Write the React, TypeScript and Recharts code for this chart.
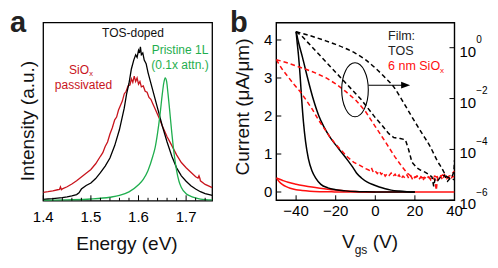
import React from 'react';
import { LineChart, Line, XAxis, YAxis, ReferenceArea, ReferenceDot, ReferenceLine, Customized } from 'recharts';

const FONT = '"Liberation Sans", Arial, Helvetica, sans-serif';
const DARK_RED = '#c8141c';
const GREEN = '#1fae4e';
const RED = '#ff1010';

// ---- panel a: PL spectra (energy eV, normalised intensity) ----
const energyTicks = [1.4, 1.5, 1.6, 1.7];
const energyMinorTicks = [1.42, 1.44, 1.46, 1.48, 1.52, 1.54, 1.56, 1.58, 1.62, 1.64, 1.66, 1.68, 1.72, 1.74];

const tosDoped = [
    [1.4, 0.008], [1.41, 0.01], [1.42, 0.012], [1.43, 0.015], [1.44, 0.018], [1.45, 0.022], [1.46, 0.027],
    [1.47, 0.035], [1.475, 0.045], [1.48, 0.066], [1.49, 0.086], [1.5, 0.1], [1.51, 0.125], [1.52, 0.158],
    [1.53, 0.195], [1.54, 0.24], [1.55, 0.31], [1.56, 0.4], [1.57, 0.52], [1.575, 0.6], [1.58, 0.66],
    [1.585, 0.74], [1.59, 0.79], [1.594, 0.82], [1.597, 0.805], [1.6, 0.845], [1.602, 0.83], [1.604, 0.865],
    [1.606, 0.82], [1.609, 0.83], [1.612, 0.79], [1.616, 0.77], [1.62, 0.72], [1.63, 0.62], [1.64, 0.52],
    [1.65, 0.42], [1.66, 0.33], [1.67, 0.25], [1.68, 0.185], [1.69, 0.14], [1.7, 0.11], [1.71, 0.085],
    [1.72, 0.066], [1.73, 0.051], [1.74, 0.04], [1.755, 0.03],
];

const sioPassivated = [
    [1.4, 0.047], [1.41, 0.051], [1.42, 0.056], [1.43, 0.062], [1.434, 0.064], [1.436, 0.078], [1.438, 0.063],
    [1.44, 0.067], [1.45, 0.079], [1.46, 0.094], [1.47, 0.112], [1.48, 0.134], [1.49, 0.155], [1.5, 0.176],
    [1.51, 0.208], [1.52, 0.25], [1.525, 0.27], [1.53, 0.305], [1.535, 0.33], [1.54, 0.375], [1.545, 0.41],
    [1.55, 0.455], [1.554, 0.47], [1.558, 0.51], [1.562, 0.535], [1.566, 0.56], [1.57, 0.6], [1.574, 0.615],
    [1.578, 0.645], [1.582, 0.65], [1.585, 0.685], [1.588, 0.665], [1.591, 0.7], [1.594, 0.67], [1.597, 0.69],
    [1.6, 0.655], [1.603, 0.67], [1.606, 0.64], [1.61, 0.645], [1.614, 0.615], [1.618, 0.61], [1.622, 0.58],
    [1.626, 0.57], [1.63, 0.545], [1.635, 0.515], [1.64, 0.485], [1.645, 0.455], [1.65, 0.42], [1.655, 0.39],
    [1.66, 0.36], [1.665, 0.335], [1.67, 0.31], [1.68, 0.258], [1.69, 0.215], [1.7, 0.186], [1.71, 0.16],
    [1.72, 0.135], [1.725, 0.128], [1.727, 0.14], [1.729, 0.125], [1.73, 0.112], [1.74, 0.092], [1.755, 0.074],
];

const pristine = [
    [1.4, 0.002], [1.45, 0.005], [1.5, 0.01], [1.54, 0.02], [1.56, 0.03], [1.58, 0.05], [1.6, 0.09],
    [1.61, 0.12], [1.62, 0.17], [1.63, 0.25], [1.635, 0.3], [1.64, 0.38], [1.645, 0.48], [1.65, 0.6],
    [1.653, 0.66], [1.656, 0.69], [1.659, 0.67], [1.662, 0.6], [1.665, 0.52], [1.67, 0.38], [1.675, 0.26],
    [1.68, 0.17], [1.685, 0.11], [1.69, 0.075], [1.7, 0.04], [1.71, 0.025], [1.72, 0.016], [1.73, 0.01],
    [1.755, 0.005],
];

// ---- panel b: transfer curves (Vgs V, current uA/um linear; log10 current on right) ----
const vgsTicks = [-40, -20, 0, 20, 40];
const currentTicks = [0, 1, 2, 3, 4];
const logTicks = [1, 1e-2, 1e-4, 1e-6];

const tosLinSteep = [
    [-40, 4.22], [-39.5, 3.95], [-38.8, 3.6], [-38, 3.08], [-37.2, 2.45], [-36.3, 1.85], [-35.2, 1.32],
    [-33.8, 0.88], [-32, 0.56], [-30, 0.36], [-27.5, 0.2], [-24, 0.11], [-20, 0.06], [-15, 0.03],
    [-10, 0.012], [-5, 0.004], [0, 0], [20, 0],
];
const tosLinSlow = [
    [-40, 4.22], [-38.6, 3.9], [-36.8, 3.55], [-34.3, 3.02], [-31.2, 2.42], [-28.5, 2.0], [-26, 1.72],
    [-23, 1.45], [-20, 1.24], [-17, 1.04], [-14, 0.84], [-11.5, 0.66], [-9.5, 0.5], [-7, 0.37], [-4, 0.26],
    [-1, 0.19], [2, 0.13], [5, 0.085], [8, 0.05], [12, 0.025], [16, 0.01], [20, 0],
];
const sioLinUpper = [
    [-50, 0.37], [-47, 0.31], [-44, 0.255], [-40, 0.205], [-36, 0.165], [-32, 0.13], [-28, 0.1], [-24, 0.073],
    [-20, 0.05], [-16, 0.032], [-12, 0.018], [-8, 0.008], [-4, 0.003], [0, 0],
];
const sioLinLower = [
    [-50, 0.37], [-48.5, 0.27], [-47, 0.2], [-45, 0.14], [-43, 0.1], [-40, 0.06], [-37, 0.04], [-33, 0.022],
    [-28, 0.01], [-22, 0.004], [-16, 0], [40, 0],
];

// exponents (log10 of current)
const tosLogUpper = [
    [-40, 0.63], [-35, 0.52], [-30, 0.4], [-25, 0.27], [-20, 0.13], [-15, -0.03], [-10, -0.22], [-5, -0.47],
    [0, -0.8], [5, -1.18], [9.3, -1.54], [13.5, -2.06], [18.5, -2.72], [23.6, -3.37], [27.8, -3.9],
    [31.2, -4.43], [33.7, -4.75], [36.2, -5.08], [37.9, -5.12], [39.6, -4.89], [40, -4.43],
];
const tosLogLower = [
    [-40, 0.63], [-37, 0.45], [-34, 0.2], [-31, -0.05], [-28, -0.3], [-25, -0.55], [-22, -0.8], [-19, -1.05],
    [-16, -1.3], [-13, -1.55], [-10, -1.8], [-7, -2.05], [-4, -2.35], [-1, -2.65], [0, -2.75], [3.4, -3.05],
    [6.7, -3.37], [9.3, -3.53], [12.6, -3.57], [15.2, -3.62], [16.8, -4.0], [18.5, -4.5], [21, -4.72],
    [23, -4.82], [25.3, -4.9], [27, -4.98], [28.6, -5.08], [29.5, -5.45], [30.2, -5.15], [31.6, -5.22],
    [33, -5.08], [35, -5.02], [36.5, -5.25], [38, -5.12], [40, -5.2],
];
const sioLogUpper = [
    [-50, -0.47], [-45, -0.58], [-40, -0.72], [-35, -0.85], [-30, -1.0], [-25, -1.18], [-20, -1.42],
    [-15, -1.72], [-10, -2.05], [-5, -2.5], [0, -3.1], [3.4, -3.5], [6.7, -3.9], [10, -4.3], [13.5, -4.68],
    [16, -4.92], [18, -5.05], [20, -5.1], [22, -5.03], [24, -5.12], [26, -5.06], [28, -5.15], [30, -5.05],
    [32, -5.12], [34, -5.0], [36, -5.1], [38, -5.02], [40, -4.85],
];
const sioLogLower = [
    [-50, -0.47], [-47, -0.85], [-44, -1.15], [-41, -1.45], [-38, -1.72], [-35, -2.05], [-32, -2.4],
    [-29, -2.8], [-26, -3.15], [-23, -3.5], [-20, -3.8], [-17, -4.05], [-14, -4.3], [-11, -4.5], [-8, -4.62],
    [-5, -4.75], [-3, -4.82], [-2, -4.72], [-1, -4.9], [0, -4.85], [1, -4.95], [2, -4.85], [3, -4.98],
    [4, -4.9], [5, -5.05], [6, -4.95], [7, -5.02], [8, -4.93], [9, -5.05], [10, -4.97], [11, -5.1],
    [12, -5.0], [13, -5.15], [14, -5.05], [15, -5.12], [16, -5.0], [17, -5.15], [18, -5.05], [19, -5.2],
    [20, -5.1], [21, -5.05], [22, -5.18], [23, -5.08], [24, -5.22], [25, -5.1], [26, -5.15], [27, -5.08],
    [28, -5.2], [29, -5.1], [30, -5.2], [30.8, -5.6], [31.5, -5.1], [32, -5.15], [33, -5.05], [34, -5.2],
    [35, -5.0], [36, -5.15], [37, -5.1], [38, -5.2], [39, -5.05], [40, -5.1],
];

const specRows = (pts: number[][]) => pts.map(([e, y]) => ({ e, y }));
const linRows = (pts: number[][]) => pts.map(([v, i]) => ({ v, i }));
const logRows = (pts: number[][]) => pts.map(([v, ex]) => ({ v, c: Math.pow(10, ex) }));

const minus = (v: number) => (v < 0 ? `\u2212${-v}` : `${v}`);

const EnergyTick = (props: any) => {
    const { x, y, payload } = props;
    const major = energyTicks.some(t => Math.abs(t - payload.value) < 1e-6);
    return (
        <g>
            <line x1={x} x2={x} y1={y} y2={y - (major ? 5.5 : 3)} stroke="#000" strokeWidth={1} />
            {major && (
                <text x={x} y={y + 21} textAnchor="middle" fontSize={15} fontFamily={FONT} fill="#000">
                    {payload.value.toFixed(1)}
                </text>
            )}
        </g>
    );
};

const VgsTick = (props: any) => {
    const { x, y, payload } = props;
    return (
        <g>
            <line x1={x} x2={x} y1={y} y2={y - 5} stroke="#000" strokeWidth={1} />
            <text x={x} y={y + 15.5} textAnchor="middle" fontSize={15} fontFamily={FONT} fill="#000">
                {minus(payload.value)}
            </text>
        </g>
    );
};

const CurrentTick = (props: any) => {
    const { x, y, payload } = props;
    return (
        <g>
            <line x1={x} x2={x + 5} y1={y} y2={y} stroke="#000" strokeWidth={1} />
            <text x={x - 4} y={y + 5.3} textAnchor="end" fontSize={15} fontFamily={FONT} fill="#000">
                {payload.value}
            </text>
        </g>
    );
};

const LogTick = (props: any) => {
    const { x, y, payload } = props;
    const ex = Math.round(Math.log10(payload.value));
    return (
        <g>
            <line x1={x} x2={x - 5} y1={y} y2={y} stroke="#000" strokeWidth={1} />
            <text x={x + 5} y={y + 9} textAnchor="start" fontSize={15} fontFamily={FONT} fill="#000">
                10<tspan dy={-13.5} fontSize={10}>{minus(ex)}</tspan>
            </text>
        </g>
    );
};

const PanelALabels = () => (
    <g fontFamily={FONT}>
        <text x={10} y={31.7} fontSize={29} fontWeight="bold" fill="#222">a</text>
        <text x={33.6} y={121} fontSize={19} textAnchor="middle" transform="rotate(-90 33.6 121)" fill="#111">
            Intensity (a.u.)
        </text>
        <text x={127} y={250} fontSize={19} textAnchor="middle" fill="#111">Energy (eV)</text>
        <text x={133} y={37} fontSize={12} textAnchor="middle" fill="#111">TOS-doped</text>
        <text x={180} y={54} fontSize={12} textAnchor="middle" fill={GREEN}>Pristine 1L</text>
        <text x={180} y={68.5} fontSize={12} textAnchor="middle" fill={GREEN}>(0.1x attn.)</text>
        <text x={81} y={74} fontSize={12} textAnchor="middle" fill={DARK_RED}>
            SiO<tspan dy={2} fontSize={7.5}>x</tspan>
        </text>
        <text x={83.5} y={89} fontSize={12} textAnchor="middle" fill={DARK_RED}>passivated</text>
    </g>
);

const B_LEFT = 225;

const PanelBLabels = () => (
    <g fontFamily={FONT}>
        <text x={230 - B_LEFT} y={31.7} fontSize={29} fontWeight="bold" fill="#222">b</text>
        <text x={248.6 - B_LEFT} y={107} fontSize={19} textAnchor="middle"
            transform={`rotate(-90 ${248.6 - B_LEFT} 107)`} fill="#111">
            Current (μA/μm)
        </text>
        <text x={370 - B_LEFT} y={248} fontSize={19} textAnchor="middle" fill="#111">
            V<tspan dy={6} fontSize={12}>gs</tspan><tspan dy={-6} fontSize={19}> (V)</tspan>
        </text>
        <text x={388 - B_LEFT} y={40} fontSize={12.5} fill="#222">Film:</text>
        <text x={388 - B_LEFT} y={55} fontSize={12.5} fill="#222">TOS</text>
        <text x={388 - B_LEFT} y={70} fontSize={12.5} fill={RED}>
            6 nm SiO<tspan dy={3} fontSize={8}>x</tspan>
        </text>
    </g>
);

const Ellipse = (props: any) => (
    <ellipse cx={props.cx} cy={props.cy} rx={13.3} ry={27} fill="none" stroke="#000" strokeWidth={1.1} />
);

const ArrowHead = (props: any) => {
    const { cx, cy } = props;
    return <path d={`M${cx},${cy} L${cx - 9},${cy - 3.4} L${cx - 9},${cy + 3.4} Z`} fill="#000" />;
};

const App = () => {
    return (
        <div style={{ position: 'absolute', left: 0, top: 0, width: 498, height: 268, background: '#fff', overflow: 'hidden' }}>
            <div style={{ position: 'absolute', left: 0, top: 0 }}>
                <LineChart width={240} height={268} margin={{ top: 22.7, right: 27.7, bottom: 37.2, left: 43.3 }}>
                    <XAxis
                        type="number"
                        dataKey="e"
                        domain={[1.4, 1.755]}
                        ticks={[...energyTicks, ...energyMinorTicks].sort((a, b) => a - b)}
                        interval={0}
                        tickSize={0}
                        tickMargin={0}
                        tickLine={false}
                        axisLine={false}
                        tick={<EnergyTick />}
                        height={30}
                        allowDataOverflow
                    />
                    <YAxis type="number" domain={[0, 1]} hide allowDataOverflow />
                    <ReferenceArea x1={1.4} x2={1.755} y1={0} y2={1} fill="none" stroke="#000" strokeWidth={1.3} />
                    <Line data={specRows(sioPassivated)} dataKey="y" type="linear" stroke={DARK_RED} strokeWidth={1.3} dot={false} isAnimationActive={false} />
                    <Line data={specRows(tosDoped)} dataKey="y" type="linear" stroke="#000" strokeWidth={1.3} dot={false} isAnimationActive={false} />
                    <Line data={specRows(pristine)} dataKey="y" type="monotone" stroke={GREEN} strokeWidth={1.3} dot={false} isAnimationActive={false} />
                    <Customized component={PanelALabels} />
                </LineChart>
            </div>
            <div style={{ position: 'absolute', left: B_LEFT, top: 0 }}>
                <LineChart width={273} height={268} margin={{ top: 22.7, right: 3.5, bottom: 37.7, left: 11.3 }}>
                    <XAxis
                        type="number"
                        dataKey="v"
                        domain={[-50, 40]}
                        ticks={vgsTicks}
                        interval={0}
                        tickSize={0}
                        tickMargin={0}
                        tickLine={false}
                        axisLine={false}
                        tick={<VgsTick />}
                        height={30}
                        allowDataOverflow
                    />
                    <YAxis
                        yAxisId="left"
                        type="number"
                        domain={[-0.218, 4.455]}
                        ticks={currentTicks}
                        interval={0}
                        tickSize={0}
                        tickMargin={0}
                        tickLine={false}
                        axisLine={false}
                        tick={<CurrentTick />}
                        width={40}
                        allowDataOverflow
                    />
                    <YAxis
                        yAxisId="right"
                        orientation="right"
                        type="number"
                        scale="log"
                        domain={[1e-6, 9.62]}
                        ticks={logTicks}
                        interval={0}
                        tickSize={0}
                        tickMargin={0}
                        tickLine={false}
                        axisLine={false}
                        tick={<LogTick />}
                        width={40}
                        allowDataOverflow
                    />
                    <ReferenceArea yAxisId="left" x1={-50} x2={40} y1={-0.218} y2={4.455} fill="none" stroke="#000" strokeWidth={1.4} />
                    <Line yAxisId="left" data={linRows(sioLinUpper)} dataKey="i" type="monotone" stroke={RED} strokeWidth={1.5} dot={false} isAnimationActive={false} />
                    <Line yAxisId="left" data={linRows(sioLinLower)} dataKey="i" type="monotone" stroke={RED} strokeWidth={1.5} dot={false} isAnimationActive={false} />
                    <Line yAxisId="left" data={linRows(tosLinSteep)} dataKey="i" type="monotone" stroke="#000" strokeWidth={1.5} dot={false} isAnimationActive={false} />
                    <Line yAxisId="left" data={linRows(tosLinSlow)} dataKey="i" type="monotone" stroke="#000" strokeWidth={1.5} dot={false} isAnimationActive={false} />
                    <Line yAxisId="right" data={logRows(sioLogUpper)} dataKey="c" type="linear" stroke={RED} strokeWidth={1.5} strokeDasharray="4.5 3" dot={false} isAnimationActive={false} />
                    <Line yAxisId="right" data={logRows(sioLogLower)} dataKey="c" type="linear" stroke={RED} strokeWidth={1.5} strokeDasharray="4.5 3" dot={false} isAnimationActive={false} />
                    <Line yAxisId="right" data={logRows(tosLogUpper)} dataKey="c" type="monotone" stroke="#000" strokeWidth={1.5} strokeDasharray="4.5 3" dot={false} isAnimationActive={false} />
                    <Line yAxisId="right" data={logRows(tosLogLower)} dataKey="c" type="linear" stroke="#000" strokeWidth={1.5} strokeDasharray="4.5 3" dot={false} isAnimationActive={false} />
                    <ReferenceDot yAxisId="left" x={-10.25} y={2.69} shape={<Ellipse />} ifOverflow="visible" />
                    <ReferenceLine yAxisId="left" segment={[{ x: -3.5, y: 2.81 }, { x: 13.5, y: 2.81 }]} stroke="#000" strokeWidth={1.1} ifOverflow="visible" />
                    <ReferenceDot yAxisId="left" x={17.6} y={2.81} shape={<ArrowHead />} ifOverflow="visible" />
                    <Customized component={PanelBLabels} />
                </LineChart>
            </div>
        </div>
    );
};

export default App;
